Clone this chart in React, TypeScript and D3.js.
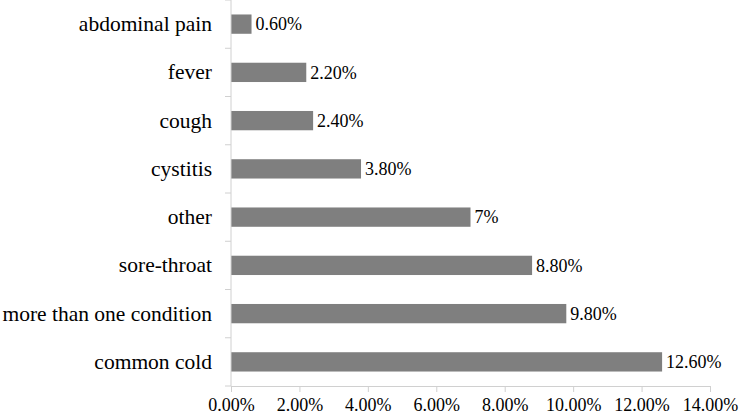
import React, { useEffect, useRef } from "react";
import * as d3 from "d3";

const categories = [
  "abdominal pain",
  "fever",
  "cough",
  "cystitis",
  "other",
  "sore-throat",
  "more than one condition",
  "common cold",
];
const values = [0.6, 2.2, 2.4, 3.8, 7, 8.8, 9.8, 12.6];
const valueLabels = ["0.60%", "2.20%", "2.40%", "3.80%", "7%", "8.80%", "9.80%", "12.60%"];
const xTicks = [0, 2, 4, 6, 8, 10, 12, 14];

const font = "Liberation Serif, DejaVu Serif, serif";

const App = () => {
  const svgRef = useRef<SVGSVGElement>(null);

  useEffect(() => {
    const svg = d3.select(svgRef.current);
    svg.selectAll("*").remove();
    const height = 416;
    const margin = { top: 0, right: 30, bottom: 30, left: 231 };

    const x = d3.scaleLinear().domain([0, 14]).range([margin.left, 710]);
    const y = d3.scaleBand()
      .domain(categories)
      .range([margin.top, height - margin.bottom])
      .paddingInner(0.6)
      .paddingOuter(0.3);

    const axisColor = "#d0d0d0";

    // bars
    svg.append("g")
      .selectAll("rect")
      .data(values)
      .enter()
      .append("rect")
      .attr("x", x(0))
      .attr("y", (d, i) => y(categories[i]))
      .attr("width", d => x(d) - x(0))
      .attr("height", y.bandwidth())
      .attr("fill", "#7f7f7f");

    // value labels
    svg.append("g")
      .selectAll("text")
      .data(values)
      .enter()
      .append("text")
      .text((d, i) => valueLabels[i])
      .attr("x", d => x(d) + 4)
      .attr("y", (d, i) => y(categories[i]) + y.bandwidth() / 2)
      .attr("dy", "0.35em")
      .style("font-family", font)
      .style("font-size", "18px")
      .attr("fill", "#000");

    // x axis
    const xAxis = svg.append("g")
      .attr("transform", `translate(0,${height - margin.bottom})`)
      .call(
        d3.axisBottom(x)
          .tickValues(xTicks)
          .tickFormat(d => (d as number).toFixed(2) + "%")
          .tickSize(6)
          .tickPadding(6)
      );
    xAxis.selectAll("path, line").attr("stroke", axisColor);
    xAxis.selectAll("text")
      .style("font-family", font)
      .style("font-size", "18px")
      .attr("fill", "#000");

    // y axis labels
    const yAxis = svg.append("g")
      .attr("transform", `translate(${margin.left},0)`)
      .call(d3.axisLeft(y).tickSize(0).tickPadding(19));
    yAxis.select(".domain").remove();
    yAxis.selectAll("text")
      .style("font-family", font)
      .style("font-size", "21.5px")
      .attr("fill", "#000");

    // y axis line and category boundary ticks
    const yBottom = height - margin.bottom;
    svg.append("line")
      .attr("x1", margin.left)
      .attr("x2", margin.left)
      .attr("y1", margin.top)
      .attr("y2", yBottom)
      .attr("stroke", axisColor);
    svg.append("g")
      .selectAll("line")
      .data(d3.range(categories.length + 1))
      .enter()
      .append("line")
      .attr("x1", margin.left - 6)
      .attr("x2", margin.left)
      .attr("y1", i => margin.top + (yBottom - margin.top) * i / categories.length)
      .attr("y2", i => margin.top + (yBottom - margin.top) * i / categories.length)
      .attr("stroke", axisColor);
  }, []);

  return (
    <svg
      ref={svgRef}
      width={740}
      height={416}
      style={{ position: "absolute", left: 0, top: 0, background: "#fff" }}
    ></svg>
  );
};

export default App;
